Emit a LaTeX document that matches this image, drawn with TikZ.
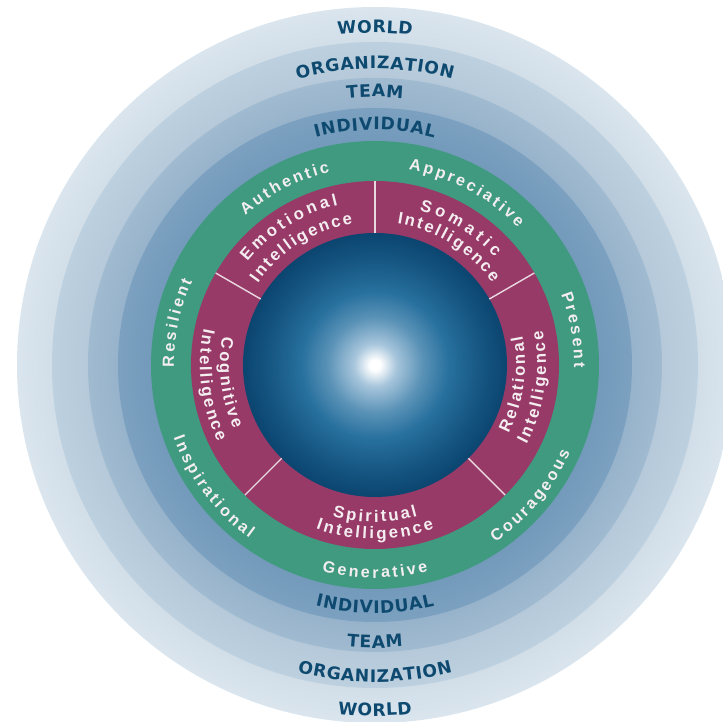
\documentclass[tikz,border=0pt]{standalone}
\usepackage{fontspec}
\setmainfont{Liberation Sans}
\newfontfamily\levelfont{DejaVu Sans}
\usetikzlibrary{decorations.text}

\definecolor{worldin}{HTML}{D1DEE8}
\definecolor{worldout}{HTML}{DAE5EE}
\definecolor{orgin}{HTML}{B5C9DA}
\definecolor{orgout}{HTML}{BDD0DF}
\definecolor{teamin}{HTML}{97B3CB}
\definecolor{teamout}{HTML}{A0BAD0}
\definecolor{indin}{HTML}{739ABB}
\definecolor{indout}{HTML}{7CA1C0}
\definecolor{qualring}{HTML}{3F9A7F}
\definecolor{intring}{HTML}{983A67}
\definecolor{sphedge}{HTML}{0B4570}
\definecolor{sphmid}{HTML}{27709E}
\definecolor{sphlight}{HTML}{A8C6DC}
\definecolor{levelink}{HTML}{0E4A70}
\definecolor{lightink}{HTML}{F4EEF1}

\pgfdeclareradialshading{sphere}{\pgfpoint{0bp}{0bp}}{%
  color(0bp)=(white); color(1bp)=(white);
  color(4bp)=(sphlight); color(9bp)=(sphmid!60!sphlight);
  color(14bp)=(sphmid); color(20bp)=(sphedge!60!sphmid);
  color(25bp)=(sphedge); color(50bp)=(sphedge)}
\pgfdeclareradialshading{worldshade}{\pgfpoint{0bp}{0bp}}{%
  color(0bp)=(worldin); color(22.5bp)=(worldin); color(25bp)=(worldout); color(50bp)=(worldout)}
\pgfdeclareradialshading{orgshade}{\pgfpoint{0bp}{0bp}}{%
  color(0bp)=(orgin); color(22.2bp)=(orgin); color(25bp)=(orgout); color(50bp)=(orgout)}
\pgfdeclareradialshading{teamshade}{\pgfpoint{0bp}{0bp}}{%
  color(0bp)=(teamin); color(22.4bp)=(teamin); color(25bp)=(teamout); color(50bp)=(teamout)}
\pgfdeclareradialshading{indshade}{\pgfpoint{0bp}{0bp}}{%
  color(0bp)=(indin); color(21.8bp)=(indin); color(25bp)=(indout); color(50bp)=(indout)}

% words set along arcs: clockwise over the top, anticlockwise under the bottom
\newcommand\overarc[5]{%
  \path[#4, decorate, decoration={text effects along path, text={#3},
    text align=center, text effects/.cd, text along path,
    characters={inner xsep=0pt}, character widths={inner xsep=#5}}]
    (#1+80:#2) arc[start angle=#1+80, end angle=#1-80, radius=#2];}
\newcommand\underarc[5]{%
  \path[#4, decorate, decoration={text effects along path, text={#3},
    text align=center, text effects/.cd, text along path,
    characters={inner xsep=0pt}, character widths={inner xsep=#5}}]
    (#1-80:#2) arc[start angle=#1-80, end angle=#1+80, radius=#2];}

\tikzset{
  levelword/.style={font=\levelfont\bfseries\fontsize{9.8}{12}\selectfont, text=levelink},
  qualword/.style={font=\bfseries\fontsize{9.2}{11}\selectfont, text=lightink},
  intword/.style={font=\bfseries\fontsize{9.5}{11}\selectfont, text=lightink},
  divider/.style={draw=intring!20!white, line width=0.8pt}
}

\begin{document}
\begin{tikzpicture}[x=0.02cm, y=0.02cm]
   \useasboundingbox (-375,-357) rectangle (348,365);
   \clip (-375,-357) rectangle (348,365);
   \coordinate (hub) at (0,0);

   % the four levels
   \shade[shading=worldshade] (hub) circle (358);
   \shade[shading=orgshade] (hub) circle (323);
   \shade[shading=teamshade] (hub) circle (287);
   \shade[shading=indshade] (hub) circle (257);
   % qualities and intelligences
   \fill[qualring] (hub) circle (224);
   \fill[intring] (hub) circle (184);
   \shade[shading=sphere] (hub) circle (132);

   \draw[divider] (90:132) -- (90:184);
   \draw[divider] (30:132) -- (30:184);
   \draw[divider] (150:132) -- (150:184);
   \draw[divider] (225:132) -- (225:184);
   \draw[divider] (315:132) -- (315:184);

   \overarc{90}{332}{WORLD}{levelword}{0.15pt}
   \overarc{90}{296}{ORGANIZATION}{levelword}{0.2pt}
   \overarc{90}{268}{TEAM}{levelword}{0.2pt}
   \overarc{90}{235}{INDIVIDUAL}{levelword}{0.2pt}
   \underarc{270}{248}{INDIVIDUAL}{levelword}{0.2pt}
   \underarc{270}{283}{TEAM}{levelword}{0.2pt}
   \underarc{270}{317}{ORGANIZATION}{levelword}{0.2pt}
   \underarc{270}{351}{WORLD}{levelword}{0.15pt}

   \overarc{117}{198}{Authentic}{qualword}{0.75pt}
   \overarc{62}{198}{Appreciative}{qualword}{0.75pt}
   \overarc{10}{199}{Present}{qualword}{0.75pt}
   \overarc{168}{201}{Resilient}{qualword}{0.75pt}
   \underarc{-40}{214}{Courageous}{qualword}{0.75pt}
   \underarc{-90}{213}{Generative}{qualword}{0.75pt}
   \underarc{217}{214}{Inspirational}{qualword}{0.75pt}

   \overarc{122}{164}{Emotional}{intword}{1pt}
   \overarc{122}{143}{Intelligence}{intword}{0.6pt}
   \overarc{58}{161}{Somatic}{intword}{1.2pt}
   \overarc{58}{143}{Intelligence}{intword}{0.6pt}
   \underarc{-8}{150}{Relational}{intword}{0.65pt}
   \underarc{-8}{171}{Intelligence}{intword}{0.65pt}
   \underarc{270}{157}{Spiritual}{intword}{0.7pt}
   \underarc{270}{174}{Intelligence}{intword}{0.75pt}
   \underarc{187}{155}{Cognitive}{intword}{0.65pt}
   \underarc{187}{175}{Intelligence}{intword}{0.65pt}
\end{tikzpicture}
\end{document}
